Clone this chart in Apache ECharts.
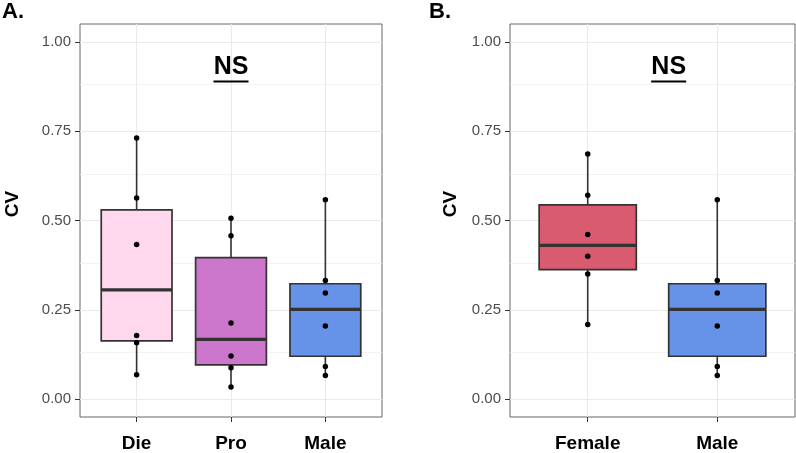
<!DOCTYPE html>
<html>
<head>
<meta charset="utf-8">
<script src="https://cdn.jsdelivr.net/npm/echarts@6/dist/echarts.min.js"></script>
<style>
html,body{margin:0;padding:0;background:#fff;}
#chart{width:796px;height:453px;}
</style>
</head>
<body>
<div id="chart"></div>
<script>
// ---- Data ----
const catsA = ['Die', 'Pro', 'Male'];
const catsB = ['Female', 'Male'];

// raw points per group
const ptsDie    = [0.731, 0.563, 0.433, 0.178, 0.158, 0.068];
const ptsPro    = [0.506, 0.457, 0.213, 0.121, 0.088, 0.034];
const ptsMale   = [0.558, 0.332, 0.297, 0.205, 0.0915, 0.0665];
const ptsFemale = [0.686, 0.571, 0.461, 0.400, 0.350, 0.209];

// box stats: [lower whisker, Q1, median, Q3, upper whisker]
const boxDie    = [0.068, 0.163, 0.306, 0.530, 0.731];
const boxPro    = [0.034, 0.096, 0.167, 0.396, 0.506];
const boxMale   = [0.0665, 0.120, 0.251, 0.323, 0.558];
const boxFemale = [0.209, 0.3625, 0.4305, 0.5435, 0.686];

// axis ticks
const yTicks = [0, 0.25, 0.5, 0.75, 1.0];
const yMinor = [0.125, 0.375, 0.625, 0.875];
const xTicksA = [1, 2, 3];
const xTicksB = [1, 2];

// annotations
const nsA = [2, 0.928];
const nsB = [1.625, 0.928];
const nsLineY = 0.889;

// ---- styles ----
const fillA = ['#FFD8EE', '#CC77CC', '#6692E8'];
const fillB = ['#D95B6F', '#6692E8'];
const FONT = '"Liberation Sans", Arial, Helvetica, sans-serif';

function boxData(boxes) {
  return boxes.map((b, i) => [i + 1].concat(b));
}
function pointData(groups) {
  const out = [];
  groups.forEach((g, i) => g.forEach(v => out.push([i + 1, v])));
  return out;
}

function boxSeries(gi, boxes, fills) {
  return {
    type: 'custom', xAxisIndex: gi, yAxisIndex: gi, z: 10, silent: true,
    data: boxData(boxes),
    renderItem: function (params, api) {
      const x = api.value(0);
      const lo = api.coord([x, api.value(1)]);
      const q1 = api.coord([x, api.value(2)]);
      const md = api.coord([x, api.value(3)]);
      const q3 = api.coord([x, api.value(4)]);
      const hi = api.coord([x, api.value(5)]);
      const hw = api.size([0.375, 0])[0];
      const stroke = '#333333';
      return {
        type: 'group',
        children: [
          { type: 'line', shape: { x1: hi[0], y1: hi[1], x2: q3[0], y2: q3[1] }, style: { stroke: stroke, lineWidth: 1.6 } },
          { type: 'line', shape: { x1: q1[0], y1: q1[1], x2: lo[0], y2: lo[1] }, style: { stroke: stroke, lineWidth: 1.6 } },
          { type: 'rect', shape: { x: q3[0] - hw, y: q3[1], width: hw * 2, height: q1[1] - q3[1] },
            style: { fill: fills[params.dataIndex], stroke: stroke, lineWidth: 1.7 } },
          { type: 'line', shape: { x1: md[0] - hw, y1: md[1], x2: md[0] + hw, y2: md[1] }, style: { stroke: stroke, lineWidth: 3.2 } }
        ]
      };
    }
  };
}

function pointSeries(gi, groups) {
  return {
    type: 'scatter', xAxisIndex: gi, yAxisIndex: gi, z: 12, silent: true,
    symbol: 'circle', symbolSize: 5.5,
    itemStyle: { color: '#000000', opacity: 1 },
    data: pointData(groups)
  };
}

function gridSeries(gi, xTicks) {
  const major = { color: '#EAEAEA', width: 1.1, type: 'solid' };
  const minor = { color: '#F0F0F0', width: 0.8, type: 'solid' };
  const lines = [];
  yTicks.forEach(v => lines.push({ yAxis: v, lineStyle: major }));
  yMinor.forEach(v => lines.push({ yAxis: v, lineStyle: minor }));
  xTicks.forEach(v => lines.push({ xAxis: v, lineStyle: major }));
  return {
    type: 'line', xAxisIndex: gi, yAxisIndex: gi, z: 1, silent: true,
    data: [],
    markLine: { z: 1, silent: true, symbol: ['none', 'none'], label: { show: false },
      animation: false, data: lines }
  };
}

function nsSeries(gi, pos) {
  return {
    type: 'custom', xAxisIndex: gi, yAxisIndex: gi, z: 12, silent: true,
    data: [pos.concat([nsLineY])],
    renderItem: function (params, api) {
      const p = api.coord([api.value(0), api.value(1)]);
      const l = api.coord([api.value(0), api.value(2)]);
      return {
        type: 'group',
        children: [
          { type: 'text', x: p[0], y: p[1],
            style: { text: 'NS', fill: '#000', font: 'bold 25px ' + FONT, align: 'center', verticalAlign: 'middle' } },
          { type: 'line', shape: { x1: l[0] - 17.5, y1: l[1], x2: l[0] + 17.5, y2: l[1] },
            style: { stroke: '#000', lineWidth: 2.2 } }
        ]
      };
    }
  };
}

function xAxis(gi, cats, max, ticks) {
  return {
    type: 'value', gridIndex: gi, min: 0.4, max: max,
    axisLine: { show: false, onZero: false },
    axisTick: { show: true, customValues: ticks, length: 5, lineStyle: { color: '#333333', width: 1 } },
    axisLabel: { show: true, customValues: ticks, margin: 17,
      formatter: v => cats[Math.round(v) - 1] || '',
      color: '#000', fontSize: 19, fontWeight: 'bold', fontFamily: FONT },
    splitLine: { show: false }
  };
}
function yAxis(gi) {
  return {
    type: 'value', gridIndex: gi, min: -0.05, max: 1.05,
    axisLine: { show: false, onZero: false },
    axisTick: { show: true, customValues: yTicks, length: 5, lineStyle: { color: '#333333', width: 1 } },
    axisLabel: { show: true, customValues: yTicks, margin: 9,
      formatter: v => v.toFixed(2), color: '#4D4D4D', fontSize: 15, fontFamily: FONT },
    splitLine: { show: false }
  };
}

const chart = echarts.init(document.getElementById('chart'), null, { renderer: 'canvas' });
chart.setOption({
  animation: false,
  backgroundColor: '#ffffff',
  grid: [
    { left: 80, top: 24, width: 302, height: 396, show: true, borderColor: '#666666', borderWidth: 1, backgroundColor: 'transparent' },
    { left: 510, top: 24, width: 285, height: 396, show: true, borderColor: '#666666', borderWidth: 1, backgroundColor: 'transparent' }
  ],
  xAxis: [xAxis(0, catsA, 3.6, xTicksA), xAxis(1, catsB, 2.6, xTicksB)],
  yAxis: [yAxis(0), yAxis(1)],
  graphic: [
    { type: 'text', left: 2, top: 1, style: { text: 'A.', font: 'bold 22px ' + FONT, fill: '#000' } },
    { type: 'text', left: 429, top: 1, style: { text: 'B.', font: 'bold 22px ' + FONT, fill: '#000' } },
    { type: 'text', x: 13, y: 204, rotation: Math.PI / 2,
      style: { text: 'CV', font: 'bold 19px ' + FONT, fill: '#000', align: 'center', verticalAlign: 'middle' } },
    { type: 'text', x: 451, y: 204, rotation: Math.PI / 2,
      style: { text: 'CV', font: 'bold 19px ' + FONT, fill: '#000', align: 'center', verticalAlign: 'middle' } }
  ],
  series: [
    gridSeries(0, xTicksA),
    gridSeries(1, xTicksB),
    boxSeries(0, [boxDie, boxPro, boxMale], fillA),
    boxSeries(1, [boxFemale, boxMale], fillB),
    pointSeries(0, [ptsDie, ptsPro, ptsMale]),
    pointSeries(1, [ptsFemale, ptsMale]),
    nsSeries(0, nsA),
    nsSeries(1, nsB)
  ]
});
</script>
</body>
</html>
